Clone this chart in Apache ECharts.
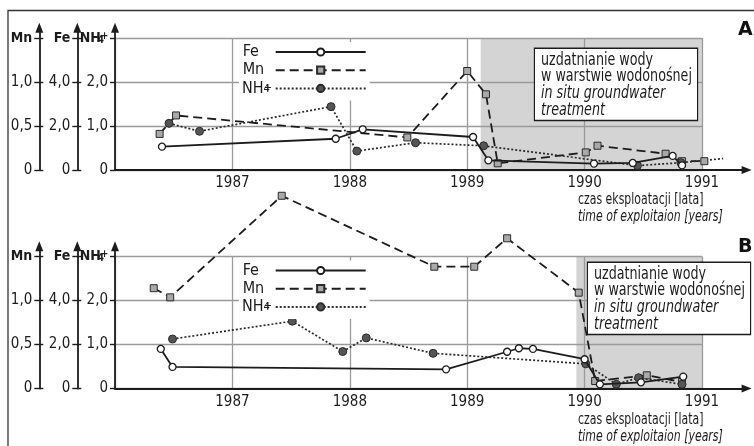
<!DOCTYPE html>
<html><head><meta charset="utf-8">
<script src="https://cdn.jsdelivr.net/npm/echarts@6/dist/echarts.min.js"></script>
<style>html,body{margin:0;padding:0;background:#fff}#c{width:754px;height:446px}</style>
</head><body><div id="c"></div>
<script>
// ---------- data ----------
const yearLabels = [1987, 1988, 1989, 1990, 1991];
const nh4Ticks = [0, 1, 2, 3];
const feTicks = [0, 2, 4, 6];
const mnTicks = [0, 0.5, 1, 1.5];
const legendNames = ['Fe', 'Mn', 'NH4+'];

// panel A
const topFe  = [[1986.40,1.06],[1987.88,1.42],[1988.11,1.85],[1989.05,1.50],[1989.18,0.44],[1990.08,0.29],[1990.41,0.32],[1990.75,0.64],[1990.83,0.21]];
const topMn  = [[1986.38,0.41],[1986.52,0.62],[1988.49,0.37],[1989.00,1.125],[1989.16,0.86],[1989.26,0.076],[1990.01,0.20],[1990.11,0.276],[1990.69,0.185],[1990.83,0.10],[1991.02,0.10]];
const topNH4 = [[1986.46,1.06],[1986.72,0.88],[1987.84,1.44],[1988.06,0.43],[1988.56,0.62],[1989.14,0.55],[1990.45,0.10],[1990.82,0.166]];
const topNH4Tail = [1991.18, 0.26];   // dotted line continues without marker
const shadeTop = [1989.115, 1991];

// panel B
const botFe  = [[1986.39,1.80],[1986.49,0.98],[1988.82,0.87],[1989.34,1.67],[1989.44,1.83],[1989.56,1.80],[1990.00,1.33],[1990.13,0.19],[1990.48,0.28],[1990.84,0.54]];
const botMn  = [[1986.33,1.14],[1986.47,1.036],[1987.42,2.19],[1988.72,1.384],[1989.06,1.384],[1989.34,1.707],[1989.95,1.089],[1990.09,0.085],[1990.53,0.15],[1990.83,0.074]];
const botNH4 = [[1986.49,1.125],[1987.51,1.53],[1987.94,0.84],[1988.14,1.15],[1988.71,0.80],[1990.01,0.56],[1990.27,0.095],[1990.46,0.245],[1990.83,0.095]];
const shadeBot = [1989.93, 1991];

const noteLines = ['uzdatnianie wody', 'w warstwie wodonośnej', 'in situ groundwater', 'treatment'];
const xTitle1 = 'czas eksploatacji [lata]';
const xTitle2 = 'time of exploitaion [years]';

// ---------- layout ----------
const FONT = "'Liberation Sans Narrow','DejaVu Sans Condensed','Liberation Sans',sans-serif";
const HEAVY = "'DejaVu Sans','Liberation Sans',sans-serif";
const X0 = 115, PXY = 117.4, XMIN = 1986, XGRID = 1991, XMAX = 1991.38;
const UNIT = 44, YGRID = 3, YMAX = 3.234;
const INK = '#1c1c1c';

const chart = echarts.init(document.getElementById('c'));

const fmtNum = v => v === 0 ? '0' : v.toFixed(1).replace('.', ',');
const labelRich = {
  b: {fontFamily: FONT, fontSize: 14, fontWeight: 'bold', color: INK},
  bs: {fontFamily: FONT, fontSize: 10, fontWeight: 'bold', color: INK, verticalAlign: 'bottom', lineHeight: 8, width: 0.1, align: 'left'},
  bp: {fontFamily: FONT, fontSize: 10, fontWeight: 'bold', color: INK, verticalAlign: 'top', lineHeight: 8, width: 7, align: 'left'}
};

const grids = [], xAxes = [], yAxes = [], series = [], legends = [];

function panel(base, fe, mn, nh4, tail, shade, legendTop) {
  const gData = grids.length, gFrame = gData + 1;
  grids.push({left: X0, top: base - YMAX * UNIT, width: (XMAX - XMIN) * PXY, height: YMAX * UNIT, outerBoundsMode: 'none'});
  grids.push({left: X0, top: base - YGRID * UNIT, width: (XGRID - XMIN) * PXY, height: YGRID * UNIT, outerBoundsMode: 'none'});
  const xi = xAxes.length;
  xAxes.push({
    gridIndex: gData, type: 'value', min: XMIN, max: XMAX, z: 3,
    axisLine: {show: true, onZero: false, symbol: ['none', 'triangle'], symbolSize: [8, 10], lineStyle: {color: INK, width: 1.8}},
    axisTick: {show: false}, splitLine: {show: false},
    axisLabel: {customValues: yearLabels, margin: 6, fontSize: 15, fontFamily: FONT, color: INK,
      formatter: v => yearLabels.indexOf(v) >= 0 ? String(v) : ''}
  });
  xAxes.push({
    gridIndex: gFrame, type: 'value', min: XMIN, max: XGRID, interval: 1, z: 1,
    axisLine: {show: false}, axisTick: {show: false}, axisLabel: {show: false},
    splitLine: {show: true, lineStyle: {color: '#9a9a9a', width: 1.3}}
  });
  const yi = yAxes.length;
  const mkY = (max, offset, ticks, top) => ({
    gridIndex: gData, type: 'value', min: 0, max: max, position: 'left', offset: offset, z: 3,
    axisLine: {show: true, onZero: false, symbol: ['none', 'triangle'], symbolSize: [8, 10], lineStyle: {color: INK, width: 1.8}},
    axisTick: {show: true, length: 5, customValues: ticks, lineStyle: {color: INK, width: 1.4}},
    splitLine: {show: false},
    axisLabel: {customValues: ticks, margin: 7, fontSize: 15, fontFamily: FONT, color: INK, rich: labelRich,
      formatter: v => ticks.indexOf(v) < 0 ? '' : (v === ticks[ticks.length - 1] ? top : fmtNum(v))}
  });
  const mkTwin = (max, offset, ticks) => ({
    gridIndex: gData, type: 'value', min: 0, max: max, position: 'left', offset: offset, z: 3,
    axisLine: {show: false}, axisLabel: {show: false}, splitLine: {show: false},
    axisTick: {show: true, inside: true, length: 4, customValues: ticks, lineStyle: {color: INK, width: 1.4}}
  });
  yAxes.push(mkY(YMAX, 0, nh4Ticks, '{b|NH}{bs|4}{bp|+}'));
  yAxes.push(mkY(YMAX * 2, 37.7, feTicks, '{b|Fe}'));
  yAxes.push(mkY(YMAX * 0.5, 75.7, mnTicks, '{b|Mn}'));
  yAxes.push({
    gridIndex: gFrame, type: 'value', min: 0, max: YGRID, interval: 1, z: 1,
    axisLine: {show: false}, axisTick: {show: false}, axisLabel: {show: false},
    splitLine: {show: true, lineStyle: {color: '#9a9a9a', width: 1.3}}
  });
  yAxes.push(mkTwin(YMAX * 2, 37.7, feTicks));
  yAxes.push(mkTwin(YMAX * 0.5, 75.7, mnTicks));
  const common = {type: 'line', xAxisIndex: xi, clip: false, animation: false, silent: true};
  series.push(Object.assign({}, common, {
    name: 'Fe', yAxisIndex: yi + 1, data: fe, symbol: 'circle', symbolSize: 7, z: 4,
    itemStyle: {color: '#fff', borderColor: INK, borderWidth: 1.3},
    lineStyle: {color: INK, width: 1.8, type: 'solid'}
  }));
  series.push(Object.assign({}, common, {
    name: 'Mn', yAxisIndex: yi + 2, data: mn, symbol: 'rect', symbolSize: 7, z: 3,
    itemStyle: {color: '#a9a9a9', borderColor: '#2a2a2a', borderWidth: 1},
    lineStyle: {color: INK, width: 1.8, type: [9, 5]}
  }));
  const nhData = nh4.slice();
  if (tail) nhData.push({value: tail, symbol: 'none'});
  series.push(Object.assign({}, common, {
    name: 'NH4+', yAxisIndex: yi, data: nhData, symbol: 'circle', symbolSize: 8, z: 3,
    itemStyle: {color: '#555', borderColor: '#2a2a2a', borderWidth: 1},
    lineStyle: {color: '#2a2a2a', width: 1.7, type: [2, 2]},
    markArea: {silent: true, z: 0, itemStyle: {color: '#d4d4d4'},
      data: [[{xAxis: shade[0], yAxis: 0}, {xAxis: shade[1], yAxis: YGRID}]]}
  }));
  legends.push({
    data: legendNames, orient: 'vertical', align: 'right', left: 239, top: legendTop,
    selectedMode: false, backgroundColor: '#fff', padding: [2, 3, 4, 3],
    itemWidth: 90, itemHeight: 9, itemGap: 2.2,
    formatter: n => n === 'NH4+' ? '{n|NH}{s|4}{p|+}' : '{a|' + n + '}',
    textStyle: {fontSize: 16, fontFamily: FONT, color: INK, lineHeight: 12,
      rich: {a: {fontSize: 16, fontFamily: FONT, color: INK, width: 28, align: 'left', lineHeight: 12},
             n: {fontSize: 16, fontFamily: FONT, color: INK, align: 'left', lineHeight: 12},
             s: {fontSize: 11, fontFamily: FONT, color: INK, verticalAlign: 'bottom', lineHeight: 8, width: 0.1, align: 'left'},
             p: {fontSize: 11, fontFamily: FONT, color: INK, verticalAlign: 'top', lineHeight: 8, width: 7, align: 'left'}}}
  });
}

panel(170, topFe, topMn, topNH4, topNH4Tail, shadeTop, 42);
panel(388.5, botFe, botMn, botNH4, null, shadeBot, 260.5);

const NOTE_SX = 0.83;
function note(x, y) {
  return {type: 'text', x: x, y: y, z: 20, scaleX: NOTE_SX, scaleY: 1,
    style: {text: noteLines[0] + '\n' + noteLines[1] + '\n{i|' + noteLines[2] + '}\n{i|' + noteLines[3] + '}',
      fontSize: 17, fontFamily: FONT, fill: INK, lineHeight: 16.7, width: 148 / NOTE_SX,
      backgroundColor: '#fff', borderColor: INK, borderWidth: 1.4, padding: [3, 8 / NOTE_SX, 1, 6 / NOTE_SX],
      rich: {i: {fontSize: 17, fontFamily: FONT, fontStyle: 'italic', fill: INK, lineHeight: 16.7}}}};
}
const TITLE_SX = 0.81;
function xTitle(y) {
  return [
    {type: 'text', x: 578, y: y, z: 20, scaleX: TITLE_SX, style: {text: xTitle1, fontSize: 15, fontFamily: FONT, fill: INK, verticalAlign: 'middle'}},
    {type: 'text', x: 578, y: y + 17, z: 20, scaleX: TITLE_SX, style: {text: xTitle2, fontSize: 15, fontFamily: FONT, fontStyle: 'italic', fill: INK, verticalAlign: 'middle'}}
  ];
}

chart.setOption({
  animation: false,
  grid: grids, xAxis: xAxes, yAxis: yAxes, series: series, legend: legends,
  graphic: [
    {type: 'polyline', z: 20, shape: {points: [[8, 460], [8, 10.5], [760, 10.5]]}, style: {stroke: '#333', lineWidth: 1.3, fill: null}},
    {type: 'text', x: 738, y: 21, z: 20, style: {text: 'A', fontSize: 19, fontWeight: 900, fontFamily: HEAVY, fill: '#111'}},
    {type: 'text', x: 738, y: 238, z: 20, style: {text: 'B', fontSize: 19, fontWeight: 900, fontFamily: HEAVY, fill: '#111'}},
    note(535, 49), note(588, 263)
  ].concat(xTitle(200), xTitle(420))
});
</script></body></html>
